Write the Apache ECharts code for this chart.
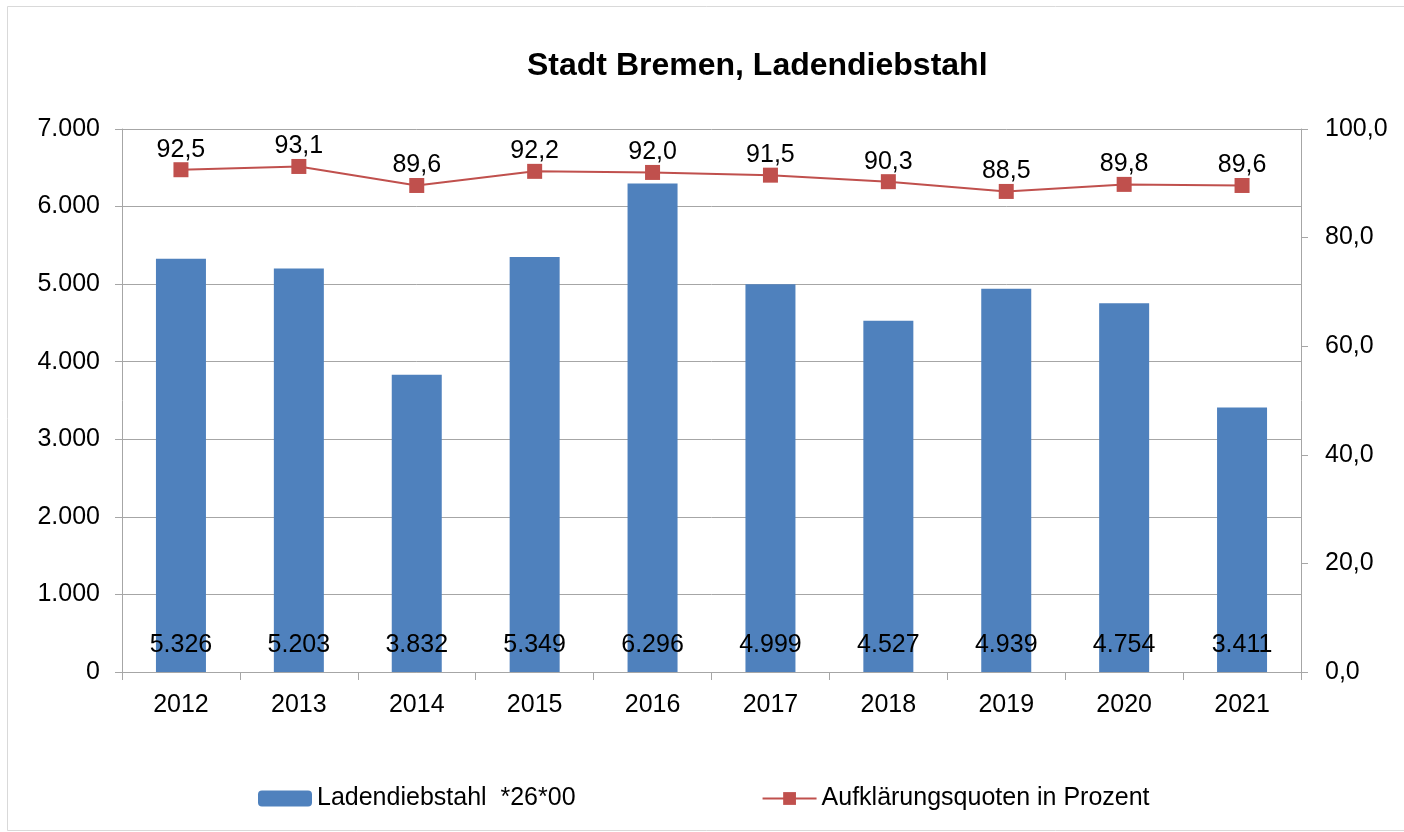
<!DOCTYPE html>
<html>
<head>
<meta charset="utf-8">
<script src="https://cdn.jsdelivr.net/npm/echarts@6/dist/echarts.min.js"></script>
<style>
html,body{margin:0;padding:0;background:#fff;}
#chart{width:1404px;height:832px;}
</style>
</head>
<body>
<div id="chart"></div>
<script>
var years = ['2012','2013','2014','2015','2016','2017','2018','2019','2020','2021'];
var diebstahl = [5326, 5203, 3832, 5349, 6296, 4999, 4527, 4939, 4754, 3411];
var quote = [92.5, 93.1, 89.6, 92.2, 92.0, 91.5, 90.3, 88.5, 89.8, 89.6];

function tausender(v){//5326 -> 5.326
	return String(Math.round(v)).replace(/\B(?=(\d{3})+(?!\d))/g, '.');
}
function komma(v){//92.5 -> 92,5
	return Number(v).toFixed(1).replace('.', ',');
}

var chart = echarts.init(document.getElementById('chart'));
var font = 'Liberation Sans, Arial, sans-serif';
var option = {
	backgroundColor: '#fff',
	textStyle: {fontFamily: font},
	animation: false,
	graphic: [{
		type: 'rect',
		shape: {x: 7.5, y: 6.5, width: 1400, height: 824},
		style: {fill: 'none', stroke: '#d9d9d9', lineWidth: 1}
	}],
	title: {
		text: 'Stadt Bremen, Ladendiebstahl',
		left: 522,
		top: 45,
		textStyle: {fontSize: 32, fontWeight: 'bold', color: '#000', fontFamily: font}
	},
	legend: {
		left: 253,
		top: 781,
		itemWidth: 54,
		itemHeight: 16,
		itemGap: 186,
		textStyle: {fontSize: 25, color: '#000', fontFamily: font},
		data: ['Ladendiebstahl  *26*00', 'Aufklärungsquoten in Prozent']
	},
	grid: {left: 122, right: 103, top: 129, bottom: 160},
	xAxis: [{
		type: 'category',
		data: years,
		axisLine: {lineStyle: {color: '#a6a6a6'}},
		axisTick: {show: true, length: 8, alignWithLabel: false, lineStyle: {color: '#a6a6a6'}},
		axisLabel: {fontSize: 25, color: '#000', margin: 21}
	}],
	yAxis: [{
		type: 'value',
		min: 0, max: 7000, interval: 1000,
		axisLine: {show: true, lineStyle: {color: '#a6a6a6'}},
		axisTick: {show: true, length: 7, lineStyle: {color: '#a6a6a6'}},
		splitLine: {lineStyle: {color: '#a6a6a6'}},
		axisLabel: {fontSize: 25, color: '#000', margin: 22, formatter: tausender}
	}, {
		type: 'value',
		min: 0, max: 100, interval: 20,
		axisLine: {show: true, lineStyle: {color: '#a6a6a6'}},
		axisTick: {show: true, length: 7, lineStyle: {color: '#a6a6a6'}},
		splitLine: {show: false},
		axisLabel: {fontSize: 25, color: '#000', margin: 24, formatter: komma}
	}],
	series: [{
		name: 'Ladendiebstahl  *26*00',
		type: 'bar',
		data: diebstahl,
		barWidth: 50,
		itemStyle: {color: '#4f81bd'},
		label: {
			show: true,
			position: 'insideBottom',
			distance: 14,
			fontSize: 25,
			color: '#000',
			fontFamily: font,
			formatter: function(p){ return tausender(p.value); }
		}
	}, {
		name: 'Aufklärungsquoten in Prozent',
		type: 'line',
		yAxisIndex: 1,
		data: quote,
		symbol: 'rect',
		symbolSize: 15,
		lineStyle: {color: '#c0504d', width: 2},
		itemStyle: {color: '#c0504d'},
		label: {
			show: true,
			position: 'top',
			distance: 0,
			fontSize: 25,
			color: '#000',
			fontFamily: font,
			formatter: function(p){ return komma(p.value); }
		}
	}]
};
chart.setOption(option);
</script>
</body>
</html>
